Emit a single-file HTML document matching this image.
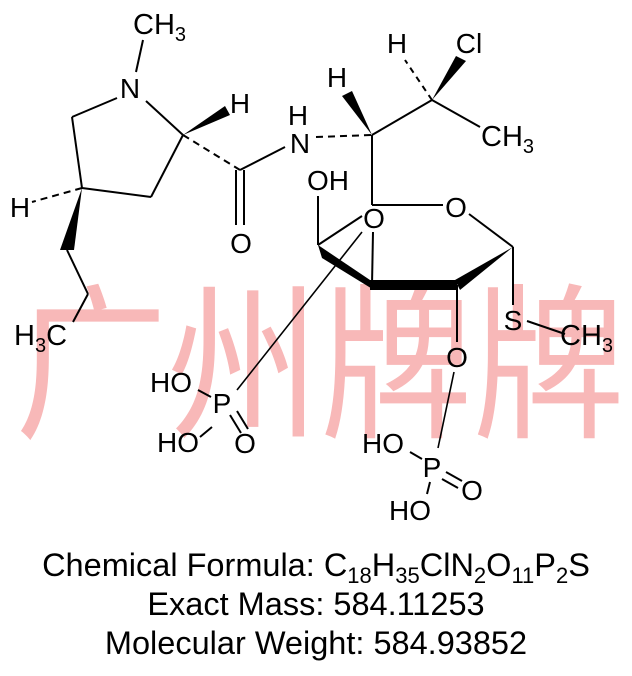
<!DOCTYPE html>
<html><head><meta charset="utf-8"><style>
html,body{margin:0;padding:0;background:#fff;}
svg{display:block;}
text{font-family:"Liberation Sans",Arial,sans-serif;fill:#000;}
</style></head><body>
<svg width="632" height="676" viewBox="0 0 632 676" xmlns="http://www.w3.org/2000/svg">
<text x="15" y="425" font-size="168" style="fill:#f8b8b8;font-family:'Noto Sans CJK SC','WenQuanYi Zen Hei',sans-serif" textLength="610" lengthAdjust="spacingAndGlyphs">广州牌牌</text>
<g stroke="#000" stroke-width="2" fill="none">
<line x1="143" y1="40" x2="136" y2="72"/>
<line x1="117" y1="98" x2="72" y2="117"/>
<line x1="72" y1="117" x2="82" y2="188"/>
<line x1="82" y1="188" x2="151" y2="197"/>
<line x1="151" y1="197" x2="183" y2="135"/>
<line x1="183" y1="135" x2="146" y2="101"/>
<line x1="183" y1="135" x2="240" y2="170" stroke-dasharray="7,5"/>
<line x1="240" y1="170" x2="285" y2="147"/>
<line x1="236" y1="170" x2="236" y2="225"/>
<line x1="244" y1="170" x2="244" y2="225"/>
<line x1="82" y1="188" x2="32" y2="202" stroke-dasharray="7,5"/>
<line x1="67" y1="250" x2="88" y2="294"/>
<line x1="88" y1="294" x2="73" y2="322"/>
<line x1="316" y1="137" x2="372" y2="135" stroke-dasharray="7,5"/>
<line x1="372" y1="135" x2="432" y2="100"/>
<line x1="432" y1="100" x2="405" y2="60" stroke-dasharray="6,5"/>
<line x1="432" y1="100" x2="480" y2="127"/>
<line x1="372" y1="135" x2="372" y2="205"/>
<line x1="372" y1="205" x2="443" y2="205"/>
<line x1="469" y1="214" x2="513" y2="247"/>
<line x1="513" y1="247" x2="513" y2="305"/>
<line x1="527" y1="321" x2="565" y2="334"/>
<line x1="318" y1="245" x2="318" y2="196"/>
<line x1="318" y1="245" x2="362" y2="216"/>
<line x1="373" y1="232" x2="372" y2="285"/>
<line x1="362" y1="232" x2="237" y2="390" stroke-width="1.6"/>
<line x1="457" y1="285" x2="457" y2="342"/>
<line x1="454" y1="372" x2="438" y2="448" stroke-width="1.6"/>
<line x1="198" y1="390" x2="211" y2="397"/>
<line x1="200" y1="437" x2="212" y2="427"/>
<line x1="230" y1="415" x2="241" y2="433"/>
<line x1="237" y1="411" x2="248" y2="429"/>
<line x1="410" y1="452" x2="422" y2="459"/>
<line x1="430" y1="482" x2="427" y2="494"/>
<line x1="446" y1="472" x2="462" y2="481"/>
<line x1="442" y1="479" x2="458" y2="488"/>
</g>
<g fill="#000">
<polygon points="183,135 225,106 230,115"/>
<polygon points="82,188 60,250 74,250"/>
<polygon points="372,135 342,96 352,91"/>
<polygon points="432,100 456,56 466,61"/>
<polygon points="513,247 455,280 460,290"/>
<polygon points="370,280 457,280 457,290 370,290"/>
<polygon points="318,245 322,258 374,290 370,280"/>
</g>
<g font-size="29">
<text x="133" y="34">CH<tspan font-size="20" dy="7">3</tspan></text>
<text x="481" y="146">CH<tspan font-size="20" dy="7">3</tspan></text>
<text x="560" y="345">CH<tspan font-size="20" dy="7">3</tspan></text>
<text x="14" y="345">H<tspan font-size="20" dy="7">3</tspan><tspan dy="-7">C</tspan></text>
</g>
<g font-size="28" text-anchor="middle">
<text x="130" y="98">N</text>
<text x="240" y="113">H</text>
<text x="300" y="153">N</text>
<text x="298" y="125">H</text>
<text x="241" y="253">O</text>
<text x="20" y="217">H</text>
<text x="337" y="87">H</text>
<text x="397" y="53">H</text>
<text x="469" y="53">Cl</text>
<text x="328" y="190">OH</text>
<text x="374" y="228">O</text>
<text x="456" y="217">O</text>
<text x="513" y="330">S</text>
<text x="457" y="367">O</text>
<text x="171" y="392">HO</text>
<text x="222" y="413">P</text>
<text x="178" y="452">HO</text>
<text x="245" y="453">O</text>
<text x="383" y="453">HO</text>
<text x="432" y="477">P</text>
<text x="410" y="520">HO</text>
<text x="472" y="500">O</text>
</g>
<g font-size="32.5" text-anchor="middle">
<text x="316" y="576">Chemical Formula: C<tspan font-size="22" dy="7">18</tspan><tspan dy="-7">H</tspan><tspan font-size="22" dy="7">35</tspan><tspan dy="-7">ClN</tspan><tspan font-size="22" dy="7">2</tspan><tspan dy="-7">O</tspan><tspan font-size="22" dy="7">11</tspan><tspan dy="-7">P</tspan><tspan font-size="22" dy="7">2</tspan><tspan dy="-7">S</tspan></text>
<text x="316" y="615">Exact Mass: 584.11253</text>
<text x="316" y="654">Molecular Weight: 584.93852</text>
</g>
</svg>
</body></html>
